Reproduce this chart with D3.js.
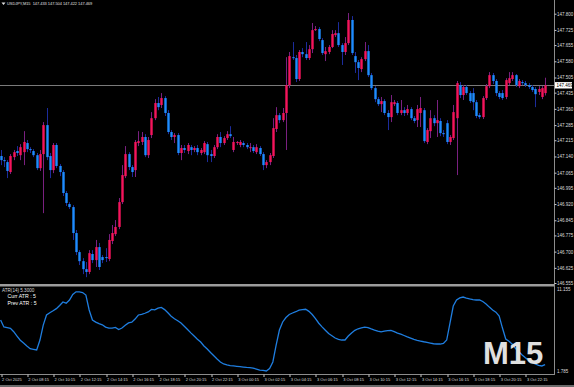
<!DOCTYPE html>
<html>
<head>
<meta charset="utf-8">
<script src="https://cdn.jsdelivr.net/npm/d3@7"></script>
<style>
  html, body { margin: 0; padding: 0; background: #000; }
  svg { display: block; font-family: "Liberation Sans", Arial, sans-serif; }
</style>
</head>
<body>
<div id="chart"></div>
<script>
// USDJPY M15, 2 Oct 06:15 -> 3 Oct 23:45 (167 bars)
const openP = [
  147.142,147.123,147.114,147.068,147.137,147.165,147.146,147.160,147.202,147.174,
  147.165,147.146,147.086,147.151,147.285,147.142,147.077,147.193,147.096,147.068,
  146.971,146.920,146.906,146.786,146.698,146.656,146.619,146.606,146.689,146.661,
  146.721,146.675,146.675,146.666,146.749,146.781,146.814,146.929,147.049,147.151,
  147.091,147.077,147.202,147.207,147.230,147.146,147.239,147.317,147.387,147.378,
  147.410,147.341,147.253,147.230,147.239,147.156,147.179,147.165,147.183,147.170,
  147.179,147.156,147.160,147.197,147.151,147.142,147.183,147.230,147.202,147.225,
  147.243,147.170,147.202,147.193,147.202,147.193,147.179,147.183,147.160,147.179,
  147.151,147.100,147.114,147.142,147.267,147.331,147.308,147.341,147.470,147.599,
  147.595,147.498,147.623,147.613,147.595,147.636,147.724,147.729,147.678,147.613,
  147.623,147.646,147.701,147.710,147.655,147.623,147.664,147.771,147.604,147.576,
  147.544,147.590,147.627,147.516,147.456,147.405,147.382,147.396,147.341,147.322,
  147.382,147.387,147.341,147.354,147.341,147.359,147.317,147.308,147.341,147.354,
  147.207,147.257,147.317,147.294,147.304,147.248,147.294,147.207,147.225,147.317,
  147.470,147.424,147.461,147.433,147.433,147.391,147.331,147.322,147.410,147.465,
  147.516,147.489,147.433,147.433,147.415,147.479,147.498,147.516,147.465,147.484,
  147.479,147.470,147.461,147.452,147.438,147.415,147.433
];
const highP = [
  147.170,147.137,147.123,147.151,147.170,147.188,147.197,147.257,147.216,147.183,
  147.174,147.156,147.170,147.299,147.364,147.156,147.202,147.202,147.105,147.077,
  146.980,146.929,146.915,146.800,146.707,146.670,146.652,146.707,146.707,146.754,
  146.740,146.684,146.716,146.781,146.823,146.846,146.948,147.100,147.188,147.160,
  147.100,147.216,147.257,147.253,147.243,147.230,147.345,147.405,147.415,147.433,
  147.419,147.354,147.262,147.248,147.248,147.193,147.193,147.202,147.193,147.188,
  147.193,147.179,147.211,147.207,147.170,147.193,147.243,147.253,147.234,147.257,
  147.280,147.230,147.211,147.216,147.211,147.202,147.202,147.193,147.197,147.188,
  147.160,147.123,147.156,147.317,147.368,147.341,147.364,147.599,147.623,147.669,
  147.609,147.632,147.641,147.669,147.655,147.757,147.743,147.738,147.687,147.646,
  147.655,147.724,147.724,147.761,147.664,147.692,147.803,147.789,147.623,147.586,
  147.599,147.669,147.655,147.526,147.465,147.415,147.415,147.405,147.354,147.424,
  147.401,147.396,147.401,147.368,147.378,147.368,147.327,147.378,147.415,147.364,
  147.271,147.354,147.331,147.401,147.317,147.262,147.308,147.239,147.378,147.489,
  147.484,147.470,147.470,147.442,147.456,147.401,147.341,147.419,147.475,147.530,
  147.526,147.498,147.442,147.447,147.502,147.530,147.530,147.521,147.498,147.493,
  147.489,147.479,147.470,147.461,147.465,147.465,147.504
];
const lowP = [
  147.100,147.091,147.040,147.059,147.123,147.142,147.123,147.100,147.160,147.156,
  147.137,147.077,147.073,146.878,147.123,147.040,147.063,147.086,147.049,146.957,
  146.911,146.897,146.754,146.684,146.638,146.596,146.582,146.596,146.647,146.629,
  146.615,146.647,146.652,146.656,146.735,146.772,146.804,146.920,147.040,147.077,
  147.045,147.045,147.188,147.193,147.137,147.133,147.225,147.308,147.354,147.364,
  147.327,147.243,147.216,147.202,147.146,147.123,147.156,147.151,147.146,147.160,
  147.146,147.146,147.151,147.114,147.114,147.133,147.174,147.183,147.193,147.216,
  147.225,147.160,147.193,147.183,147.183,147.174,147.160,147.156,147.151,147.142,
  147.077,147.086,147.100,147.133,147.253,147.294,147.299,147.170,147.456,147.586,
  147.484,147.489,147.599,147.586,147.586,147.618,147.720,147.673,147.609,147.581,
  147.613,147.641,147.692,147.646,147.563,147.609,147.655,147.609,147.526,147.493,
  147.530,147.581,147.507,147.447,147.391,147.373,147.345,147.331,147.262,147.299,
  147.373,147.331,147.331,147.327,147.331,147.308,147.294,147.276,147.276,147.202,
  147.197,147.225,147.280,147.230,147.234,147.230,147.197,147.193,147.216,147.054,
  147.410,147.401,147.424,147.387,147.354,147.317,147.313,147.313,147.401,147.456,
  147.475,147.419,147.405,147.401,147.405,147.470,147.489,147.461,147.456,147.470,
  147.461,147.452,147.438,147.368,147.424,147.405,147.422
];
const closeP = [
  147.123,147.119,147.073,147.142,147.160,147.156,147.183,147.207,147.174,147.170,
  147.146,147.086,147.151,147.285,147.137,147.077,147.193,147.096,147.068,146.971,
  146.925,146.906,146.786,146.698,146.656,146.619,146.606,146.693,146.661,146.721,
  146.629,146.661,146.670,146.754,146.786,146.814,146.929,147.054,147.151,147.091,
  147.068,147.207,147.211,147.230,147.146,147.216,147.317,147.387,147.368,147.410,
  147.341,147.253,147.230,147.239,147.156,147.179,147.170,147.193,147.170,147.179,
  147.160,147.170,147.202,147.146,147.142,147.183,147.230,147.202,147.225,147.243,
  147.234,147.207,147.207,147.207,147.193,147.183,147.183,147.165,147.183,147.151,
  147.100,147.114,147.146,147.271,147.331,147.308,147.341,147.470,147.604,147.595,
  147.498,147.623,147.613,147.595,147.636,147.724,147.729,147.683,147.618,147.627,
  147.646,147.706,147.710,147.655,147.623,147.664,147.771,147.618,147.576,147.549,
  147.590,147.627,147.516,147.456,147.405,147.382,147.396,147.341,147.322,147.391,
  147.391,147.341,147.354,147.341,147.359,147.317,147.304,147.359,147.364,147.211,
  147.262,147.317,147.294,147.308,147.248,147.243,147.207,147.230,147.345,147.479,
  147.424,147.461,147.433,147.396,147.391,147.327,147.322,147.410,147.465,147.516,
  147.489,147.433,147.415,147.410,147.493,147.502,147.516,147.470,147.489,147.479,
  147.470,147.461,147.447,147.428,147.452,147.456,147.469
];
const atrValues = [
  7.52,6.75,6.68,6.60,6.23,5.75,5.29,4.98,4.65,4.36,
  4.29,4.21,5.31,6.96,8.07,8.32,8.53,8.77,9.12,9.50,
  9.37,9.72,10.34,10.62,10.62,10.55,10.27,8.62,7.52,7.28,
  7.11,6.99,6.74,6.63,6.63,6.70,6.47,6.63,6.93,7.19,
  7.27,7.62,8.07,8.14,8.26,8.41,8.68,8.63,8.82,8.90,
  8.66,8.31,7.94,7.65,7.43,7.19,6.83,6.47,6.10,5.75,
  5.39,5.09,4.65,4.32,3.94,3.58,3.22,2.89,2.67,2.56,
  2.49,2.45,2.41,2.37,2.33,2.29,2.26,2.22,2.11,2.00,
  1.96,1.90,2.17,2.89,4.76,6.41,7.30,7.79,8.13,8.29,
  8.43,8.60,8.67,8.70,8.47,8.12,7.68,7.16,6.76,6.39,
  6.03,5.79,5.53,5.39,5.31,5.31,5.75,6.08,6.38,6.55,
  6.66,6.73,6.68,6.53,6.41,6.30,6.21,6.28,6.35,6.38,
  6.24,6.08,5.95,5.81,5.65,5.51,5.37,5.27,5.20,5.12,
  5.05,4.98,4.90,4.87,4.87,4.94,5.31,7.18,9.06,9.72,
  9.96,10.05,9.94,9.85,9.77,9.72,9.72,9.56,9.29,8.94,
  8.62,8.38,7.96,6.63,5.42,5.17,4.84,4.38,4.02,3.67,
  3.36,3.07,2.85,2.67,2.51,2.45,2.59
];

const priceTicks = [147.800,147.725,147.655,147.580,147.505,147.435,147.360,147.285,147.215,
  147.140,147.065,146.995,146.920,146.845,146.775,146.700,146.625,146.555];
const atrTicks = [11.155, 1.785];
const timeTickIdx = [0,8,16,24,32,40,48,56,64,72,80,88,96,104,112,120,128,136,144,152,160];
const timeLabels = ["2 Oct 2025","2 Oct 08:15","2 Oct 10:15","2 Oct 12:15","2 Oct 14:15",
  "2 Oct 16:15","2 Oct 18:15","2 Oct 20:15","2 Oct 22:15","3 Oct 00:15","3 Oct 02:15",
  "3 Oct 04:15","3 Oct 06:15","3 Oct 08:15","3 Oct 10:15","3 Oct 12:15","3 Oct 14:15",
  "3 Oct 16:15","3 Oct 18:15","3 Oct 20:15","3 Oct 22:15"];
const lastPrice = 147.469;
const header = "USDJPY,M15  147.433 147.504 147.422 147.469";

const W = 574, H = 387;
const axisX = 554;
const sepY = 284, subBottom = 374;

let svg = d3.select("#chart").append("svg")
    .attr("width", W)
    .attr("height", H);

svg.append("rect").attr("width", W).attr("height", H).attr("fill", "#000");

let x = d3.scaleLinear().domain([0, 166]).range([0.6, 545.1]);
let y = d3.scaleLinear().domain([146.555, 147.800]).range([283, 13.7]);
let yAtr = d3.scaleLinear().domain([1.785, 11.155]).range([372, 287]);

let bars = d3.range(openP.length).map(function(i) {
    return {i: i, o: openP[i], h: highP[i], l: lowP[i], c: closeP[i]};
});

// current price line
svg.append("line")
    .attr("x1", 0).attr("x2", axisX)
    .attr("y1", Math.round(y(lastPrice)) + 0.5).attr("y2", Math.round(y(lastPrice)) + 0.5)
    .attr("stroke", "#7a7a7a").attr("stroke-width", 1);

let candles = svg.append("g").selectAll("g").data(bars).enter().append("g");

candles.append("line")
    .attr("x1", function(d) { return Math.round(x(d.i)) + 0.5; })
    .attr("x2", function(d) { return Math.round(x(d.i)) + 0.5; })
    .attr("y1", function(d) { return y(d.h); })
    .attr("y2", function(d) { return y(d.l); })
    .attr("stroke", function(d) { return d.c >= d.o ? "#7a2080" : "#1c2c9c"; })
    .attr("stroke-width", 1);

candles.append("rect")
    .attr("x", function(d) { return Math.round(x(d.i)) + 0.5 - 1.2; })
    .attr("width", 2.4)
    .attr("y", function(d) { return y(Math.max(d.o, d.c)); })
    .attr("height", function(d) { return Math.max(1, y(Math.min(d.o, d.c)) - y(Math.max(d.o, d.c))); })
    .attr("fill", function(d) { return d.c >= d.o ? "#f5145c" : "#1e8cff"; });

// ATR sub window line
let line = d3.line()
    .x(function(d, i) { return x(i); })
    .y(function(d) { return yAtr(d); });

svg.append("path")
    .datum(atrValues)
    .attr("d", line)
    .attr("fill", "none")
    .attr("stroke", "#1f7ee0")
    .attr("stroke-width", 1.3);

// frame lines
svg.append("rect").attr("x", 0).attr("y", sepY).attr("width", axisX).attr("height", 2.5).attr("fill", "#9c9c9c");
svg.append("line").attr("x1", axisX + 0.5).attr("x2", axisX + 0.5).attr("y1", 0).attr("y2", subBottom)
    .attr("stroke", "#8c8c8c");
svg.append("line").attr("x1", 0).attr("x2", axisX + 1).attr("y1", subBottom + 0.5).attr("y2", subBottom + 0.5)
    .attr("stroke", "#8c8c8c");

// price axis
let yAxis = svg.append("g")
    .attr("transform", `translate(${axisX + 0.5},0)`)
    .call(d3.axisRight(y).tickValues(priceTicks).tickSize(2).tickFormat(d3.format(".3f")));
yAxis.select(".domain").remove();
yAxis.selectAll("line").attr("stroke", "#c8c8c8");
yAxis.selectAll("text").attr("x", 2.5).attr("fill", "#dcdcdc")
    .style("font-size", "4.5px");

// last price tag
let tagY = y(lastPrice);
svg.append("rect").attr("x", axisX + 1).attr("y", tagY - 3.2).attr("width", 17).attr("height", 6.4)
    .attr("fill", "#ffffff");
svg.append("text").attr("x", axisX + 2.5).attr("y", tagY + 1.6)
    .style("font-size", "4.5px").attr("fill", "#000").text(d3.format(".3f")(lastPrice));

// atr axis
let atrAxis = svg.append("g")
    .attr("transform", `translate(${axisX + 0.5},0)`)
    .call(d3.axisRight(yAtr).tickValues(atrTicks).tickSize(0).tickFormat(d3.format(".3f")));
atrAxis.select(".domain").remove();
atrAxis.selectAll("text").attr("x", 2.5).attr("fill", "#dcdcdc").style("font-size", "4.5px")
    .attr("dy", function(d, i) { return i === 0 ? "0.7em" : "0.1em"; });

// time axis
let xAxis = svg.append("g")
    .attr("transform", `translate(0,${subBottom + 0.5})`)
    .call(d3.axisBottom(x).tickValues(timeTickIdx).tickSize(2.5)
        .tickFormat(function(d, i) { return timeLabels[i]; }));
xAxis.select(".domain").remove();
xAxis.selectAll("line").attr("stroke", "#c8c8c8")
    .attr("transform", function(d) { return `translate(${Math.round(x(d)) + 0.5 - x(d)},0)`; });
xAxis.selectAll("text")
    .attr("x", 1).attr("y", 3.2)
    .attr("text-anchor", "start")
    .attr("fill", "#dcdcdc")
    .style("font-size", "4px");

// bottom strip
svg.append("rect").attr("x", 0).attr("y", 385).attr("width", W).attr("height", 2).attr("fill", "#6a6a6a");

// header
svg.append("path").attr("d", "M1.5,2.5 L5.5,2.5 L3.5,5 Z").attr("fill", "#e0e0e0");
svg.append("text").attr("x", 7).attr("y", 5.3)
    .style("font-size", "3.9px").attr("fill", "#e0e0e0")
    .attr("xml:space", "preserve").style("white-space", "pre")
    .text(header);

// indicator captions
svg.append("text").attr("x", 2).attr("y", 292)
    .style("font-size", "4.6px").attr("fill", "#d8d8d8").text("ATR(14) 5.3000");
svg.append("text").attr("x", 7.5).attr("y", 298)
    .style("font-size", "5.2px").attr("fill", "#ffffff").text("Curr ATR : 5");
svg.append("text").attr("x", 7.5).attr("y", 304.5)
    .style("font-size", "5.2px").attr("fill", "#ffffff").text("Prev ATR : 5");

// timeframe watermark
svg.append("text").attr("x", 483).attr("y", 363.5)
    .style("font-size", "31px").style("font-weight", "bold")
    .attr("fill", "#e0e0e0").text("M15");
</script>
</body>
</html>
